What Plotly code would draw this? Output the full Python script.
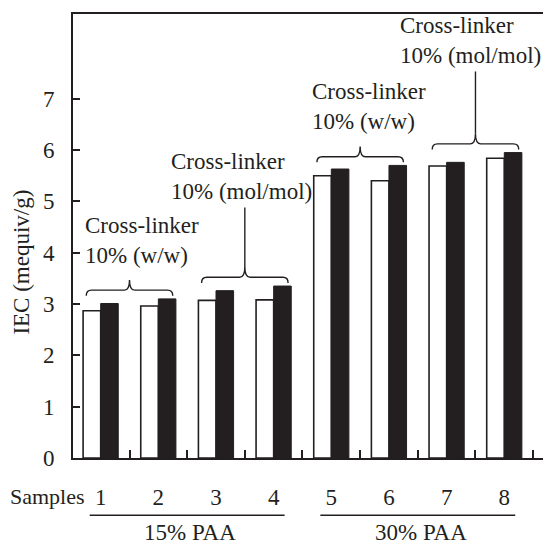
import plotly.graph_objects as go

# ---- data ----
samples = ["1", "2", "3", "4", "5", "6", "7", "8"]
iec_open = [2.87, 2.96, 3.07, 3.08, 5.50, 5.40, 5.69, 5.84]
iec_filled = [3.01, 3.10, 3.26, 3.35, 5.63, 5.70, 5.76, 5.95]
y_ticks = [0, 1, 2, 3, 4, 5, 6, 7]
group_labels = ["15% PAA", "30% PAA"]
group_members = [(0, 3), (4, 7)]
brace_groups = [(0, 1), (2, 3), (4, 5), (6, 7)]
brace_texts = ["Cross-linker<br>10% (w/w)", "Cross-linker<br>10% (mol/mol)",
               "Cross-linker<br>10% (w/w)", "Cross-linker<br>10% (mol/mol)"]
brace_leader = [0.0, 1.16, 0.0, 1.21]
brace_text_dx = [-0.05, -0.56, -0.12, -0.6]

INK = "#231f20"
FONT = "Liberation Serif"
FS = 23

pos = list(range(len(samples)))

fig = go.Figure()
fig.add_trace(go.Bar(x=samples, y=iec_open, marker=dict(color="white", line=dict(color=INK, width=1.6)),
                     showlegend=False))
fig.add_trace(go.Bar(x=samples, y=iec_filled, marker=dict(color=INK, line=dict(color=INK, width=1)),
                     showlegend=False))

shapes = []
annotations = []

# braces above pairs of samples
for k, (i, j) in enumerate(brace_groups):
    top = max(iec_open[i:j + 1] + iec_filled[i:j + 1])
    x0 = pos[i] - 0.25
    x1 = pos[j] + 0.25
    xm = (x0 + x1) / 2
    y_end = top + 0.06
    y_mid = top + 0.17
    y_tip = top + 0.37
    dx = 0.09
    path = (f"M {x0},{y_end} Q {x0},{y_mid} {x0+dx},{y_mid} L {xm-dx},{y_mid} "
            f"Q {xm},{y_mid} {xm},{y_tip} Q {xm},{y_mid} {xm+dx},{y_mid} "
            f"L {x1-dx},{y_mid} Q {x1},{y_mid} {x1},{y_end}")
    shapes.append(dict(type="path", path=path, xref="x", yref="y",
                       line=dict(color=INK, width=1.4)))
    y_text = y_tip + 0.2
    if brace_leader[k] > 0:
        shapes.append(dict(type="line", xref="x", yref="y", x0=xm, x1=xm,
                           y0=y_tip, y1=y_tip + brace_leader[k], line=dict(color=INK, width=1.4)))
        y_text = y_tip + brace_leader[k] + 0.02
    annotations.append(dict(x=x0 + brace_text_dx[k], y=y_text, xref="x", yref="y",
                            text=brace_texts[k], showarrow=False, xanchor="left", yanchor="bottom",
                            align="left", font=dict(family=FONT, size=FS, color=INK)))

# group lines and labels under the axis
for (i, j), lab in zip(group_members, group_labels):
    shapes.append(dict(type="line", xref="x", yref="paper", x0=pos[i] - 0.19, x1=pos[j] + 0.19,
                       y0=-0.129, y1=-0.129, line=dict(color=INK, width=1.5)))
    annotations.append(dict(x=(pos[i] + pos[j]) / 2 + 0.05, y=-0.168, xref="x", yref="paper",
                            text=lab, showarrow=False, xanchor="center", yanchor="middle",
                            font=dict(family=FONT, size=FS, color=INK)))

annotations.append(dict(x=-0.25, y=-0.086, xref="x", yref="paper", text="Samples", showarrow=False,
                        xanchor="right", yanchor="middle", borderpad=0,
                        font=dict(family=FONT, size=22, color=INK)))
annotations.append(dict(x=-0.107, y=0.442, xref="paper", yref="paper", text="IEC (mequiv/g)",
                        showarrow=False, textangle=-90, xanchor="center", yanchor="middle",
                        font=dict(family=FONT, size=FS, color=INK)))

fig.update_layout(
    width=543, height=537,
    margin=dict(l=65, r=0, t=6, b=87),
    paper_bgcolor="white", plot_bgcolor="white",
    barmode="group", bargap=0.39, bargroupgap=0,
    shapes=shapes, annotations=annotations,
    font=dict(family=FONT, size=FS, color=INK),
    xaxis=dict(type="category", range=[-0.48, 7.81], tickson="boundaries",
               ticks="inside", ticklen=8, tickwidth=1.5, tickcolor=INK,
               showgrid=False, zeroline=False, showline=True, linecolor=INK, linewidth=2,
               mirror=True, ticklabelstandoff=17,
               tickfont=dict(family=FONT, size=FS, color=INK)),
    yaxis=dict(range=[0, 8.65], tickmode="array", tickvals=y_ticks, ticks="inside", ticklen=7,
               tickwidth=1.5, tickcolor=INK, showgrid=False, zeroline=False, showline=True,
               linecolor=INK, linewidth=2, ticklabelstandoff=12,
               tickfont=dict(family=FONT, size=FS, color=INK)),
)

fig.write_html("out.html")
